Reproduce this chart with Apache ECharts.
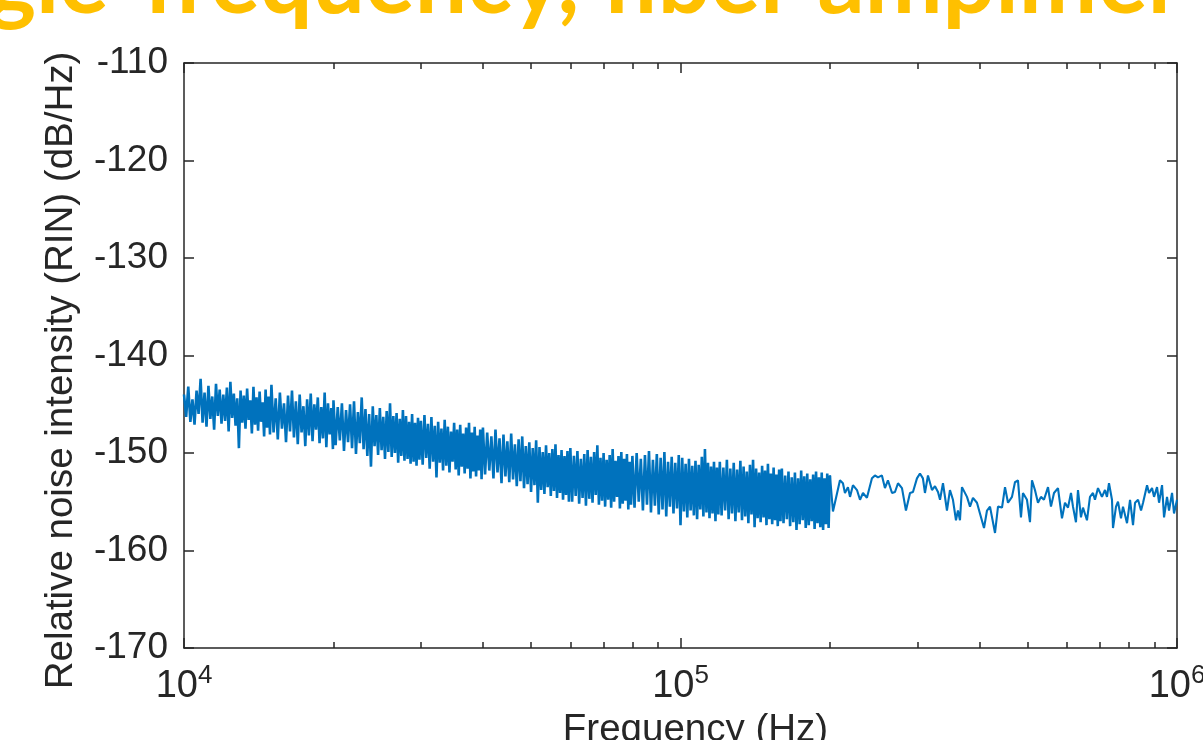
<!DOCTYPE html>
<html><head><meta charset="utf-8">
<script src="https://cdn.jsdelivr.net/npm/echarts@6/dist/echarts.min.js"></script>
<style>html,body{margin:0;padding:0;background:#fff}#c{width:1203px;height:740px}</style>
</head><body><div id="c"></div>
<script>
const titleText = 'Single-frequency, fiber amplifier';
const xAxisName = 'Frequency (Hz)';
const yAxisName = 'Relative noise intensity (RIN) (dB/Hz)';
const yMin = -170, yMax = -110, yStep = 10;
const xMinHz = 1e4, xMaxHz = 1e6;
const xMinorTicksHz = [20000,30000,40000,50000,60000,70000,80000,90000,200000,300000,400000,500000,600000,700000,800000,900000];

// dense (high-resolution) part, frequency in kHz
const denseFreqKHz = [
10.0,10.1,10.2,10.3,10.4,10.5,10.6,10.7,10.8,10.9,11.0,11.1,11.2,11.3,11.4,11.5,11.6,11.7,11.8,11.9,
12.0,12.1,12.2,12.3,12.4,12.5,12.6,12.7,12.8,12.9,13.0,13.1,13.2,13.3,13.4,13.5,13.6,13.7,13.8,13.9,
14.0,14.1,14.2,14.3,14.4,14.5,14.6,14.7,14.8,14.9,
15.00,15.15,15.30,15.45,15.60,15.75,15.90,16.05,16.20,16.35,16.50,16.65,16.80,16.95,17.10,17.25,17.40,
17.55,17.70,17.85,18.00,18.15,18.30,18.45,18.60,18.75,18.90,19.05,19.20,19.35,19.50,19.65,19.80,19.95,
20.0,20.2,20.4,20.6,20.8,21.0,21.2,21.4,21.6,21.8,22.0,22.2,22.4,22.6,22.8,23.0,23.2,23.4,23.6,23.8,
24.0,24.2,24.4,24.6,24.8,25.0,25.2,25.4,25.6,25.8,26.0,26.2,26.4,26.6,26.8,27.0,27.2,27.4,27.6,27.8,
28.0,28.2,28.4,28.6,28.8,29.0,29.2,29.4,29.6,29.8,
30.00,30.25,30.50,30.75,31.00,31.25,31.50,31.75,32.00,32.25,32.50,32.75,33.00,33.25,33.50,33.75,34.00,34.25,34.50,34.75,
35.00,35.25,35.50,35.75,36.00,36.25,36.50,36.75,37.00,37.25,37.50,37.75,38.00,38.25,38.50,38.75,39.00,39.25,39.50,39.75,
40.0,40.4,40.8,41.2,41.6,42.0,42.4,42.8,43.2,43.6,44.0,44.4,44.8,45.2,45.6,46.0,46.4,46.8,47.2,47.6,
48.0,48.4,48.8,49.2,49.6,50.0,50.4,50.8,51.2,51.6,52.0,52.4,52.8,53.2,53.6,54.0,54.4,54.8,55.2,55.6,
56.0,56.4,56.8,57.2,57.6,58.0,58.4,58.8,59.2,59.6,
60.0,60.5,61.0,61.5,62.0,62.5,63.0,63.5,64.0,64.5,65.0,65.5,66.0,66.5,67.0,67.5,68.0,68.5,69.0,69.5,
70.0,70.5,71.0,71.5,72.0,72.5,73.0,73.5,74.0,74.5,75.0,75.5,76.0,76.5,77.0,77.5,78.0,78.5,79.0,79.5,
80.0,80.8,81.6,82.4,83.2,84.0,84.8,85.6,86.4,87.2,88.0,88.8,89.6,90.4,91.2,92.0,92.8,93.6,94.4,95.2,
96.0,96.8,97.6,98.4,99.2,100.0,100.8,101.6,102.4,103.2,104.0,104.8,105.6,106.4,107.2,108.0,108.8,109.6,110.4,111.2,
112.0,112.8,113.6,114.4,115.2,116.0,116.8,117.6,118.4,119.2,
120,121,122,123,124,125,126,127,128,129,130,131,132,133,134,135,136,137,138,139,
140,141,142,143,144,145,146,147,148,149,150,151,152,153,154,155,156,157,158,159,
160.00,161.25,162.50,163.75,165.00,166.25,167.50,168.75,170.00,171.25,172.50,173.75,175.00,176.25,177.50,178.75,
180.00,181.25,182.50,183.75,185.00,186.25,187.50,188.75,190.00,191.25,192.50,193.75,195.00,196.25,197.50,198.75,200.00];
const denseRIN = [
-144.0,-146.3,-143.2,-146.8,-144.5,-147.1,-143.6,-146.0,-142.4,-146.9,-143.8,-147.3,-143.1,-146.5,-144.2,-147.6,-142.9,-146.2,-143.5,-147.0,
-144.0,-146.7,-143.3,-147.8,-142.7,-146.4,-143.9,-147.2,-144.4,-149.5,-143.6,-146.9,-144.1,-147.5,-143.4,-146.6,-144.6,-148.0,-143.2,-147.1,
-144.3,-147.7,-143.7,-146.8,-144.8,-148.3,-143.5,-147.4,-144.2,-148.1,
-143.0,-147.9,-144.4,-148.6,-143.8,-147.5,-144.9,-148.9,-144.1,-147.8,-143.6,-148.4,-144.7,-149.1,-144.0,-147.9,-145.2,
-149.3,-144.5,-148.2,-143.9,-148.8,-145.0,-147.6,-144.3,-149.0,-145.3,-148.5,-143.8,-149.4,-144.9,-148.1,-145.4,-149.6,
-144.6,-149.2,-145.3,-148.7,-144.9,-149.8,-145.6,-148.9,-145.0,-149.5,-144.7,-150.1,-145.8,-149.0,-144.3,-149.6,-145.5,-150.3,-146.0,-151.4,
-145.2,-149.3,-146.1,-150.2,-145.4,-149.7,-146.3,-150.6,-145.7,-149.9,-144.9,-150.4,-146.2,-150.0,-145.9,-151.0,-146.5,-150.3,-145.6,-150.8,
-146.2,-150.6,-146.8,-151.1,-146.0,-150.9,-146.9,-151.3,-146.4,-150.7,
-146.7,-151.2,-146.1,-150.5,-147.0,-151.6,-146.3,-150.9,-147.2,-152.5,-146.8,-151.0,-147.5,-151.8,-146.6,-151.3,-147.3,-152.0,-147.8,-150.9,
-146.9,-151.7,-147.6,-152.3,-147.1,-151.4,-148.0,-152.1,-147.4,-151.6,-146.9,-152.6,-147.9,-151.9,-147.3,-152.4,-148.2,-151.8,-147.6,-152.7,
-147.4,-152.2,-147.9,-151.8,-148.3,-152.6,-147.6,-152.0,-148.5,-153.1,-148.1,-152.4,-148.8,-153.0,-148.0,-152.7,-149.1,-153.4,-148.6,-152.9,
-148.3,-153.6,-149.3,-153.2,-148.9,-154.0,-149.5,-153.3,-148.7,-155.1,-149.4,-153.8,-149.9,-154.2,-149.2,-153.5,-150.0,-154.4,-149.6,-153.9,
-149.1,-154.6,-150.2,-154.1,-149.7,-154.8,-150.3,-154.3,-149.8,-155.0,
-149.5,-155.0,-150.3,-154.4,-149.8,-155.2,-150.6,-154.6,-150.1,-155.4,-149.7,-154.7,-150.4,-155.1,-149.9,-154.3,-149.2,-155.3,-150.5,-154.9,
-150.0,-155.5,-150.7,-154.8,-150.2,-155.6,-149.6,-155.0,-150.8,-154.5,-150.3,-155.7,-149.9,-155.2,-150.6,-154.9,-150.1,-155.8,-150.9,-155.3,
-150.3,-155.6,-150.0,-155.0,-150.6,-155.9,-150.2,-155.3,-149.8,-156.1,-150.7,-155.4,-150.1,-156.3,-150.5,-155.8,-149.9,-156.5,-150.9,-155.5,
-150.4,-156.2,-151.0,-155.7,-150.2,-157.4,-150.5,-156.0,-151.1,-156.6,-150.6,-155.9,-151.3,-156.4,-150.8,-156.8,-151.2,-155.8,-150.4,-156.5,
-149.6,-156.1,-151.0,-156.7,-151.4,-156.2,-150.9,-157.0,-151.5,-156.3,
-150.9,-156.4,-151.5,-155.9,-150.7,-156.8,-151.6,-156.2,-151.0,-157.0,-151.7,-156.1,-150.8,-156.9,-151.4,-156.5,-151.9,-157.2,-151.2,-156.3,
-150.7,-157.6,-151.6,-156.7,-152.0,-157.1,-151.3,-156.6,-151.8,-157.4,-151.1,-156.8,-152.1,-157.3,-151.5,-156.9,-152.2,-157.5,-151.7,-157.0,
-151.6,-157.2,-152.3,-156.8,-151.9,-157.5,-152.5,-157.1,-152.0,-157.9,-152.6,-157.3,-151.8,-156.9,-152.4,-157.7,
-152.1,-157.4,-152.7,-157.0,-152.2,-157.8,-151.9,-157.2,-152.5,-157.6,-152.0,-157.9,-152.6,-157.3,-152.1,-157.7,-152.3];

// coarse (low-resolution) part, frequency in kHz
const sparseFreqKHz = [
202.8,209.5,212.4,214.4,217.4,219.5,222.5,226.7,229.9,233.1,
237.4,243.0,246.4,249.9,254.5,258.1,261.7,266.7,270.4,274.2,
279.3,284.5,289.9,293.9,299.4,303.6,307.8,310.7,315.1,321.0,
325.5,330.1,333.2,337.8,344.1,348.9,353.8,358.8,362.1,365.5,
368.9,377.6,382.9,388.2,395.5,401.0,408.6,414.3,420.1,424.0,
430.0,436.0,444.2,450.4,456.7,465.2,471.7,478.3,485.0,489.5,
498.7,505.7,510.4,517.5,524.8,532.1,539.6,549.8,557.4,565.3,
575.8,586.6,594.8,603.2,611.6,617.3,625.9,631.8,640.6,646.6,
658.7,667.9,677.3,683.6,693.2,706.1,716.1,722.7,729.5,739.7,
743.2,753.6,760.6,771.3,778.5,793.1,804.3,815.5,823.2,834.7,
846.4,854.3,870.3,878.4,890.7,899.0,911.6,920.1,933.0,941.7,
954.8,963.7,977.3,986.3,1000];
const sparseRIN = [
-156.0,-152.8,-153.1,-154.1,-153.5,-154.5,-153.3,-153.8,-154.8,-154.1,
-154.6,-152.6,-152.3,-152.5,-152.3,-153.6,-152.8,-154.1,-154.0,-153.1,
-153.6,-155.9,-154.1,-154.0,-152.6,-152.1,-152.6,-154.1,-152.3,-153.8,
-153.4,-154.0,-154.8,-153.1,-155.9,-153.8,-154.8,-156.9,-155.9,-156.9,
-153.5,-154.5,-155.5,-154.6,-155.1,-156.2,-157.7,-155.9,-155.5,-155.3,
-158.2,-155.5,-155.6,-153.5,-155.1,-154.5,-153.0,-152.8,-156.6,-154.1,
-154.8,-157.1,-152.8,-153.8,-155.1,-154.5,-154.8,-153.5,-155.5,-154.1,
-153.6,-156.7,-155.1,-155.6,-154.1,-155.5,-157.1,-153.8,-156.6,-155.6,
-156.9,-154.5,-154.1,-154.8,-153.6,-154.5,-153.8,-154.5,-153.1,-154.8,
-157.7,-155.5,-155.0,-156.7,-155.5,-157.2,-154.8,-157.4,-155.1,-154.8,
-155.9,-155.1,-153.3,-154.1,-153.6,-154.5,-153.5,-155.1,-153.3,-156.6,
-154.5,-155.9,-154.1,-156.2,-154.8];

const denseData = denseFreqKHz.map((f, i) => [f * 1000, denseRIN[i]]);
const sparseData = [denseData[denseData.length - 1]]
  .concat(sparseFreqKHz.map((f, i) => [f * 1000, sparseRIN[i]]));
const minorTickPos = xMinorTicksHz.map(v => Math.log10(v));

const axisColor = '#262626';
const lineColor = '#0072BD';
const fontFam = 'Liberation Sans, Arial, sans-serif';
const axLine = { show: true, onZero: false, lineStyle: { color: axisColor, width: 1.5 } };
const tickStyle = { color: axisColor, width: 1.5 };

const chart = echarts.init(document.getElementById('c'), null, { renderer: 'canvas' });
chart.setOption({
  animation: false,
  backgroundColor: '#ffffff',
  grid: { left: 184, right: 26, top: 63, bottom: 92, containLabel: false, outerBoundsMode: 'none' },
  graphic: [{
    type: 'text', x: -140, y: -17, silent: true,
    style: { text: titleText, fill: '#FFC000', font: 'bold 93px Lato, sans-serif', verticalAlign: 'middle', align: 'left' }
  }],
  xAxis: [
    { type: 'log', logBase: 10, min: xMinHz, max: xMaxHz, position: 'bottom',
      axisLine: axLine,
      axisTick: { show: true, inside: true, length: 10, lineStyle: tickStyle },
      minorTick: { show: false }, splitLine: { show: false },
      axisLabel: { show: true, margin: 15, showMinLabel: true, showMaxLabel: true,
        formatter: v => '{b|10}{s|' + Math.round(Math.log10(v)) + '}',
        rich: {
          b: { fontSize: 38, lineHeight: 38, fontFamily: fontFam, color: axisColor, padding: [9, 0, 0, 0] },
          s: { fontSize: 26, lineHeight: 26, fontFamily: fontFam, color: axisColor, verticalAlign: 'top' }
        } },
      name: xAxisName, nameLocation: 'middle', nameGap: 55,
      nameTextStyle: { fontSize: 38.5, fontFamily: fontFam, color: axisColor, padding: [0, 0, 0, 30] } },
    { type: 'value', min: 4, max: 6, position: 'bottom',
      axisLine: { show: false, onZero: false },
      axisTick: { show: true, inside: true, length: 6, customValues: minorTickPos, lineStyle: tickStyle },
      axisLabel: { show: false }, splitLine: { show: false } },
    { type: 'log', logBase: 10, min: xMinHz, max: xMaxHz, position: 'top',
      axisLine: axLine,
      axisTick: { show: true, inside: true, length: 10, lineStyle: tickStyle },
      axisLabel: { show: false }, splitLine: { show: false } },
    { type: 'value', min: 4, max: 6, position: 'top',
      axisLine: { show: false, onZero: false },
      axisTick: { show: true, inside: true, length: 6, customValues: minorTickPos, lineStyle: tickStyle },
      axisLabel: { show: false }, splitLine: { show: false } }
  ],
  yAxis: [
    { type: 'value', min: yMin, max: yMax, interval: yStep, position: 'left',
      axisLine: axLine,
      axisTick: { show: true, inside: true, length: 10, lineStyle: tickStyle },
      axisLabel: { margin: 16, fontSize: 37, fontFamily: fontFam, color: axisColor },
      splitLine: { show: false },
      name: yAxisName, nameLocation: 'middle', nameGap: 103, nameRotate: 90,
      nameTextStyle: { fontSize: 38.5, fontFamily: fontFam, color: axisColor, padding: [0, 30, 0, 0] } },
    { type: 'value', min: yMin, max: yMax, interval: yStep, position: 'right',
      axisLine: axLine,
      axisTick: { show: true, inside: true, length: 10, lineStyle: tickStyle },
      axisLabel: { show: false }, splitLine: { show: false } }
  ],
  series: [
    { type: 'line', name: 'RIN (dense)', xAxisIndex: 0, yAxisIndex: 0, data: denseData,
      showSymbol: false, symbol: 'none', silent: true,
      lineStyle: { color: lineColor, width: 2.6 }, itemStyle: { color: lineColor } },
    { type: 'line', name: 'RIN (coarse)', xAxisIndex: 0, yAxisIndex: 0, data: sparseData,
      showSymbol: false, symbol: 'none', silent: true,
      lineStyle: { color: lineColor, width: 2.1 }, itemStyle: { color: lineColor } }
  ]
});
</script>
</body></html>
